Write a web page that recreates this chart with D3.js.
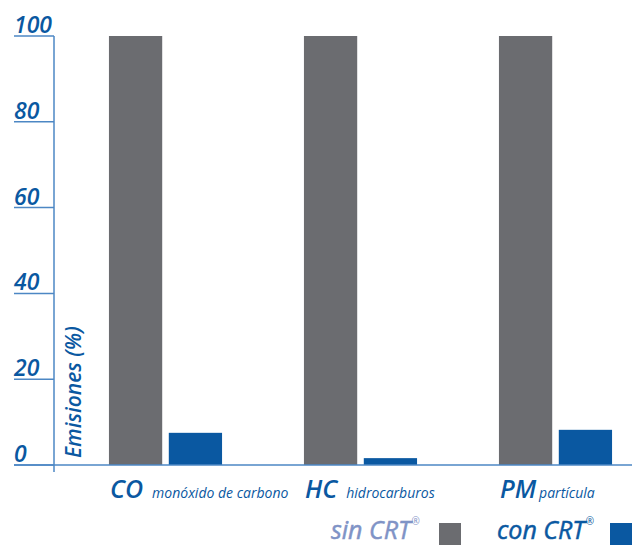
<!DOCTYPE html>
<html>
<head>
<meta charset="utf-8">
<script src="https://cdn.jsdelivr.net/npm/d3@7"></script>
<style>
  html, body { margin: 0; padding: 0; background: #fff; }
  svg { display: block; font-family: "Open Sans", "Noto Sans", sans-serif; }
</style>
</head>
<body>
<svg id="chart" width="635" height="545"></svg>
<script>
// Emission levels (%) with and without the CRT filter
const categories = ["CO", "HC", "PM"];
const categoryNames = ["monóxido de carbono", "hidrocarburos", "partícula"];
const seriesKeys = ["sin", "con"];
const seriesLabels = ["sin CRT", "con CRT"];
const sinCRT = [100, 100, 100];
const conCRT = [7.5, 1.6, 8.2];
const yTicks = [0, 20, 40, 60, 80, 100];

const blue = "#0a58a1";
const gray = "#6b6c70";
const lineBlue = "#4d87c4";
const lightText = "#7f93c6";

const svg = d3.select("#chart");

const y = d3.scaleLinear().domain([0, 100]).range([465, 36]);
const x0 = d3.scaleBand().domain(categories).range([68, 653])
  .paddingInner(0.42).paddingOuter(0.21);
const x1 = d3.scaleBand().domain(seriesKeys).range([0, x0.bandwidth()])
  .paddingInner(0.11);

const rows = categories.map((c, i) => ({ cat: c, name: categoryNames[i], sin: sinCRT[i], con: conCRT[i] }));

// Tick lines and labels on the left
const axisG = svg.append("g");
axisG.selectAll("line.tick").data(yTicks).join("line")
  .attr("x1", 14).attr("x2", 54)
  .attr("y1", d => y(d)).attr("y2", d => y(d))
  .attr("stroke", lineBlue).attr("stroke-width", 1.5);
axisG.selectAll("text.tick").data(yTicks).join("text")
  .attr("x", 14).attr("y", d => y(d) - 3)
  .attr("fill", blue)
  .attr("font-size", 23).attr("font-style", "italic").attr("font-weight", 600)
  .text(d => d);

// Vertical axis line
axisG.append("line")
  .attr("x1", 54).attr("x2", 54)
  .attr("y1", y(100)).attr("y2", 472)
  .attr("stroke", lineBlue).attr("stroke-width", 1.5);

// Axis title
svg.append("text")
  .attr("transform", `translate(81, ${y(0) - 7}) rotate(-90)`)
  .attr("fill", blue)
  .attr("font-size", 21).attr("font-style", "italic").attr("font-weight", 600)
  .text("Emisiones (%)");

// Bars
const colors = { sin: gray, con: blue };
const groups = svg.append("g").selectAll("g").data(rows).join("g")
  .attr("transform", d => `translate(${x0(d.cat)},0)`);
groups.selectAll("rect").data(d => seriesKeys.map(k => ({ key: k, value: d[k] }))).join("rect")
  .attr("x", d => x1(d.key))
  .attr("width", x1.bandwidth())
  .attr("y", d => y(d.value))
  .attr("height", d => y(0) - y(d.value))
  .attr("fill", d => colors[d.key]);

// Baseline
svg.append("line")
  .attr("x1", 14).attr("x2", 632)
  .attr("y1", y(0)).attr("y2", y(0))
  .attr("stroke", lineBlue).attr("stroke-width", 1.5);

// Category labels
const labels = svg.append("g").selectAll("text").data(rows).join("text")
  .attr("x", d => x0(d.cat) + 1)
  .attr("y", 498)
  .attr("fill", blue)
  .attr("font-style", "italic");
labels.append("tspan")
  .attr("font-size", 25).attr("font-weight", 600)
  .text(d => d.cat);
labels.append("tspan")
  .attr("dx", (d, i) => i === 2 ? 3 : 9)
  .attr("font-size", 14).attr("font-weight", 400)
  .text(d => d.name);

// Legend
const legend = [
  { label: seriesLabels[0], textX: 331, boxX: 439, color: gray, textColor: lightText },
  { label: seriesLabels[1], textX: 497, boxX: 610, color: blue, textColor: blue }
];
const lg = svg.append("g").selectAll("g").data(legend).join("g");
const lt = lg.append("text")
  .attr("x", d => d.textX).attr("y", 539)
  .attr("fill", d => d.textColor)
  .attr("stroke", d => d.textColor).attr("stroke-width", 0.5)
  .attr("font-size", 25).attr("font-style", "italic").attr("font-weight", 400);
lt.append("tspan").text(d => d.label);
lt.append("tspan").attr("font-size", 10).attr("stroke-width", 0).attr("dy", -14).attr("dx", 1).text("®");
lg.append("rect")
  .attr("x", d => d.boxX).attr("y", 523)
  .attr("width", 22).attr("height", 22)
  .attr("fill", d => d.color);
</script>
</body>
</html>
